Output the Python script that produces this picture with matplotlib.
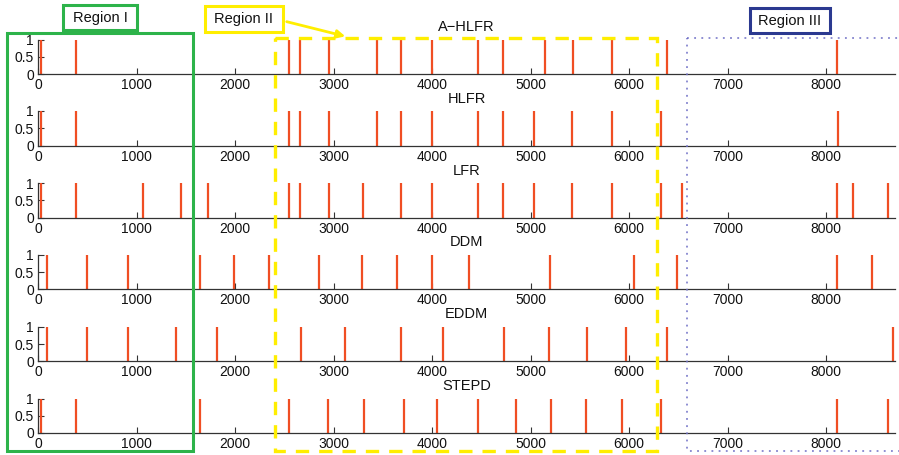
import matplotlib
matplotlib.use("Agg")
import matplotlib.pyplot as plt
from matplotlib.patches import Rectangle, FancyArrowPatch

plt.rcParams['font.family'] = ['Liberation Sans', 'DejaVu Sans']

# ---- data: detected drift points per method ----
titles = ["A−HLFR", "HLFR", "LFR", "DDM", "EDDM", "STEPD"]
a_hlfr = [30, 390, 2553, 2660, 2955, 3438, 3688, 3996, 4470, 4716, 5145, 5430, 5829, 6386, 8114]
hlfr = [30, 390, 2553, 2660, 2955, 3438, 3688, 3996, 4470, 4716, 5037, 5423, 5829, 6329, 8120]
lfr = [30, 389, 1062, 1450, 1724, 2553, 2660, 2955, 3296, 3688, 3996, 4470, 4716, 5037, 5416,
       5829, 6329, 6538, 8114, 8276, 8631]
ddm = [91, 494, 910, 1640, 1988, 2340, 2850, 3286, 3641, 3996, 4371, 5200, 6052, 6491, 8114, 8465]
eddm = [91, 494, 910, 1396, 1819, 2671, 3121, 3688, 4115, 4730, 5189, 5578, 5966, 6383, 8678]
stepd = [30, 389, 1640, 2553, 2945, 3306, 3712, 4053, 4470, 4848, 5210, 5568, 5933, 6329, 8114, 8631]
series = [a_hlfr, hlfr, lfr, ddm, eddm, stepd]
xticks = [0, 1000, 2000, 3000, 4000, 5000, 6000, 7000, 8000]
yticks = [0, 0.5, 1]
yticklabels = ["0", "0.5", "1"]

W, H = 899, 455
fig = plt.figure(figsize=(W / 100, H / 100), dpi=100)

red = '#F04E23'
axcol = '#333333'
baselines = [74, 145.5, 217.7, 289.3, 361.3, 433]
ax_h = 34.5
left_px, right_px = 38, 895

for t, s, b in zip(titles, series, baselines):
    ax = fig.add_axes([left_px / W, 1 - b / H, (right_px - left_px) / W, ax_h / H])
    ax.vlines(s, 0, 1, color=red, linewidth=1.6, clip_on=False)
    ax.set_xlim(0, 8700)
    ax.set_ylim(0, 1)
    ax.set_xticks(xticks)
    ax.set_xticklabels([str(v) for v in xticks])
    ax.set_yticks(yticks)
    ax.set_yticklabels(yticklabels)
    for sp in ['top', 'right']:
        ax.spines[sp].set_visible(False)
    for sp in ['left', 'bottom']:
        ax.spines[sp].set_color(axcol)
        ax.spines[sp].set_linewidth(0.9)
    ax.tick_params(direction='in', length=4.5, width=0.8, color=axcol,
                   labelsize=10, labelcolor='#111111', pad=3)
    ax.set_title(t, fontsize=10.5, pad=6, color='#111111')
    ax.patch.set_alpha(0)

# ---- overlay in pixel coordinates for region annotations ----
ov = fig.add_axes([0, 0, 1, 1], zorder=10)
ov.set_xlim(0, W)
ov.set_ylim(H, 0)
ov.axis('off')
ov.patch.set_alpha(0)

green = '#2DB34A'
yellow = '#FFEE00'
blue = '#6F6FC6'
navy = '#2B3990'

ov.add_patch(Rectangle((6.5, 32.5), 186.5, 418, fill=False, edgecolor=green, linewidth=2.2))
ov.add_patch(Rectangle((275, 37.5), 382, 413, fill=False, edgecolor=yellow, linewidth=2.4,
                       linestyle=(0, (4, 3))))
ov.add_patch(Rectangle((686.5, 37.5), 260, 413, fill=False, edgecolor=blue, linewidth=1.1,
                       linestyle=(0, (1.2, 3.5))))

# label boxes drawn explicitly in pixel coords
boxes = [("Region I", 63, 4.5, 137, 30, green),
         ("Region II", 204.5, 6, 283, 32, yellow),
         ("Region III", 749.5, 7.5, 829.5, 33, navy)]
for txt, x0, y0, x1, y1, ec in boxes:
    ov.add_patch(Rectangle((x0, y0), x1 - x0, y1 - y0, facecolor='white', edgecolor=ec,
                           linewidth=2.2))
    ov.text((x0 + x1) / 2, (y0 + y1) / 2 + 0.5, txt, ha='center', va='center',
            fontsize=10.5, color='#111111')

ov.add_patch(FancyArrowPatch((284, 21), (348, 37), arrowstyle='-|>', mutation_scale=12,
                             color=yellow, linewidth=2))

fig.savefig("out.png", dpi=100)
